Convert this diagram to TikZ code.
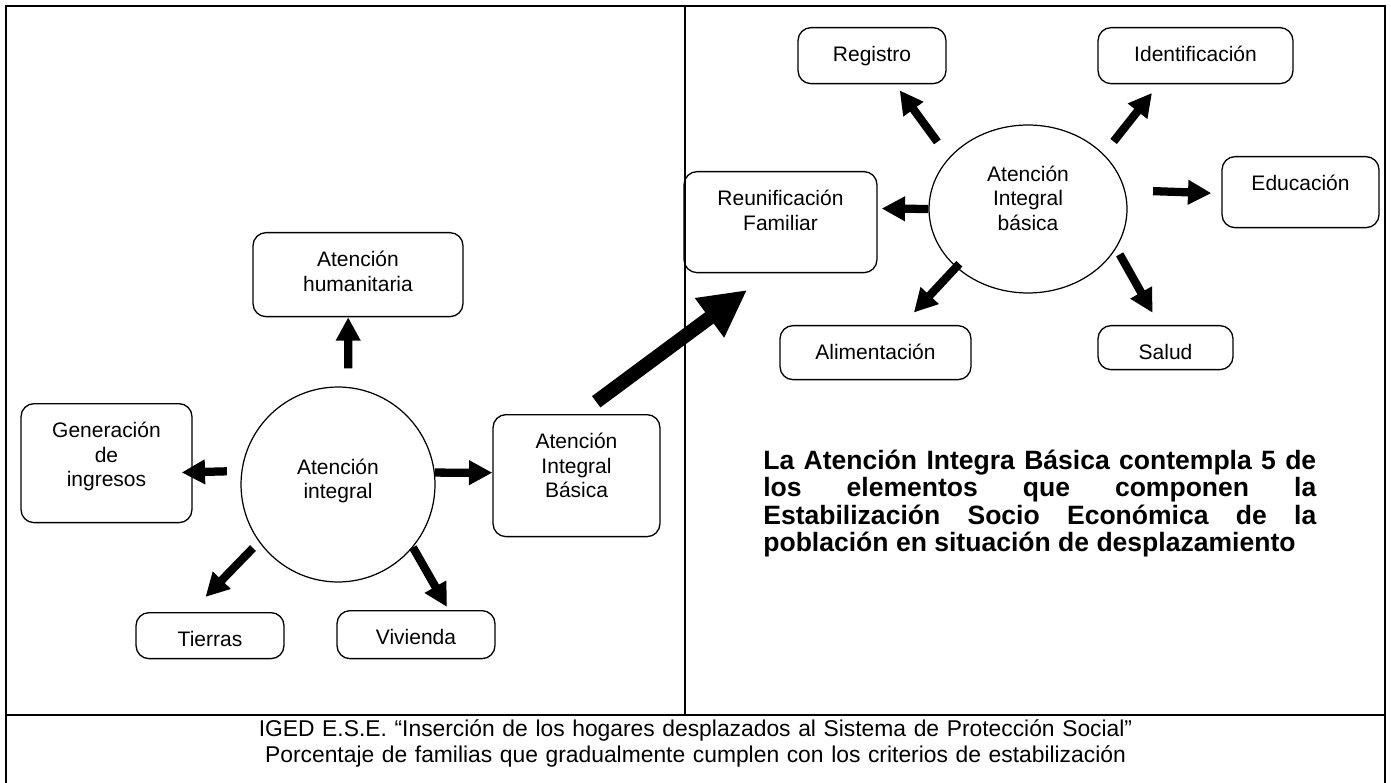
\documentclass[tikz,border=0pt]{standalone}
\usepackage{fontspec}
\setmainfont{Liberation Sans}
\usepackage{tikz}
\usetikzlibrary{shapes.geometric, arrows.meta}

\begin{document}
\begin{tikzpicture}[
    x=0.02cm, y=-0.02cm,
    item/.style={draw, line width=0.75pt, rounded corners=0.26cm, anchor=north,
                 inner sep=0pt, align=center, text height=0.68cm,
                 font=\fontsize{11.95}{14}\selectfont},
    hub/.style={draw, ellipse, line width=0.7pt, inner sep=0pt, align=center,
                text width=2.4cm, text height=0.3cm,
                font=\fontsize{11.95}{14}\selectfont},
    conn/.style={-{Triangle[length=13.3pt, width=13.3pt]}, line width=4.7pt},
    bigconn/.style={-{Triangle[length=26.7pt, width=26pt]}, line width=8pt},
]
    \useasboundingbox (0,0) rectangle (1391,783);

    % Frame
    \draw[line width=1.15pt] (6,790) -- (6,6) -- (1385,6) -- (1385,790);
    \draw[line width=1pt] (6,715) -- (1385,715);
    \draw[line width=0.6pt] (685,6) -- (685,715);

    % Left panel: Atencion integral
    \node[hub, minimum width=3.88cm, minimum height=3.9cm, text depth=0.71cm] (ai) at (338,484.5) {Atención\\integral};
    \node[item, text width=4.2cm, text depth=1.0cm] (hum) at (358,232) {Atención\\humanitaria};
    \node[item, text width=3.42cm, text depth=1.7cm] (gen) at (106.5,403) {Generación\\de\\ingresos};
    \node[item, text width=3.34cm, text depth=1.76cm] (aibl) at (576.5,414) {Atención\\Integral\\Básica};
    \node[item, text width=2.96cm, text depth=0.24cm] (tie) at (210,612) {Tierras};
    \node[item, text width=3.16cm, text depth=0.28cm] (viv) at (416,610) {Vivienda};

    % Right panel: Atencion Integral basica
    \node[hub, minimum width=3.96cm, minimum height=3.36cm, text depth=1.42cm] (aib) at (1028,209) {Atención\\Integral\\básica};
    \node[item, text width=2.96cm, text depth=0.44cm] (reg) at (872,27) {Registro};
    \node[item, text width=3.9cm, text depth=0.44cm] (ide) at (1195.5,27) {Identificación};
    \node[item, text width=3.86cm, text depth=1.34cm] (reu) at (780.5,171) {Reunificación\\Familiar};
    \node[item, text width=3.14cm, text depth=0.74cm] (edu) at (1300.5,156) {Educación};
    \node[item, text width=3.82cm, text depth=0.4cm] (ali) at (875.5,325) {Alimentación};
    \node[item, text width=2.7cm, text depth=0.2cm] (sal) at (1165.5,325) {Salud};

    % Note and source
    \node[anchor=base west, inner sep=0pt, text width=11.06cm, align=justify,
          font=\bfseries\fontsize{15.1}{15.7}\selectfont] (note) at (763,469)
        {La Atención Integra Básica contempla 5 de\linebreak los elementos que componen la\linebreak Estabilización Socio Económica de la\linebreak población en situación de desplazamiento};
    \node[anchor=base, inner sep=0pt, text width=27cm, align=center,
          font=\fontsize{13}{14.9}\selectfont] (src) at (695.5,736)
        {IGED E.S.E. “Inserción de los hogares desplazados al Sistema de Protección Social”\\
         Porcentaje de familias que gradualmente cumplen con los criterios de estabilización};

    % Connections
    \draw[conn, shorten <=0.37cm] (ai.84) -- (hum.-103);
    \draw[conn, shorten <=0.29cm, shorten >=-0.22cm] (ai.172) -- (gen.-6);
    \draw[conn] (ai.7) -- (aibl.178);
    \draw[conn, shorten <=0.17cm, shorten >=0.42cm] (ai.216) -- (tie.129);
    \draw[conn, shorten >=0.07cm] (ai.-40) -- (viv.37);
    \draw[bigconn, shorten <=0.41cm, shorten >=0.56cm] (aibl.87) -- (reu.-102);
    \draw[conn, shorten <=0.39cm, shorten >=0.15cm] (aib.147) -- (reg.-51);
    \draw[conn, shorten <=0.32cm, shorten >=0.22cm] (aib.36) -- (ide.-142);
    \draw[conn, shorten <=0.56cm, shorten >=0.2cm] (aib.11) -- (edu.181);
    \draw[conn, shorten >=0.08cm] (aib.180) -- (reu.8);
    \draw[conn, shorten <=-0.1cm, shorten >=0.34cm] (aib.219) -- (ali.46);
    \draw[conn, shorten <=0.14cm, shorten >=0.28cm] (aib.-24) -- (sal.105);
\end{tikzpicture}
\end{document}
